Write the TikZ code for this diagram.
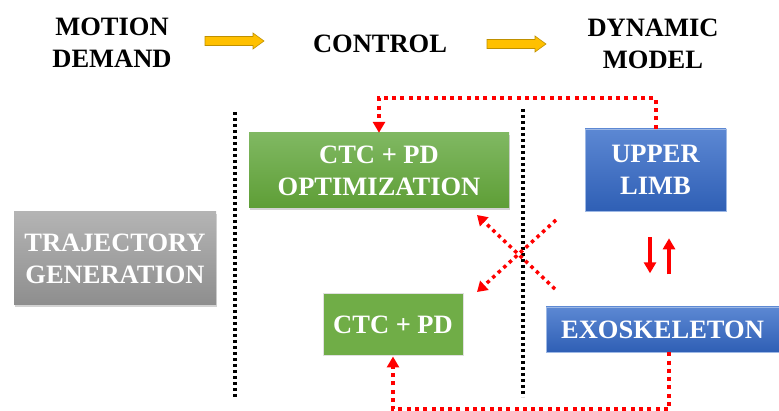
\documentclass[tikz,border=0pt]{standalone}
\usepackage{fontspec}
\setmainfont{Liberation Serif}
\usetikzlibrary{positioning,arrows.meta,calc,shadows}
\definecolor{dmgreen}{HTML}{70AD47}
\definecolor{dmgreentop}{HTML}{80B862}
\definecolor{dmgreenbot}{HTML}{5E9E36}
\definecolor{dmbluetop}{HTML}{5C88D3}
\definecolor{dmbluebot}{HTML}{2F5FB5}
\definecolor{dmgreytop}{HTML}{B4B4B4}
\definecolor{dmgreybot}{HTML}{8E8E8E}
\definecolor{dmorange}{HTML}{FFC000}
\definecolor{dmred}{HTML}{FF0000}
\newcommand{\bigfont}{\fontsize{26.5}{32}\selectfont\bfseries}
% block arrow of the headings, #1 = left end of its shaft
\newcommand{\blockarrow}[1]{%
  \draw[blockarr] #1 ++(0,-4.5) -- ++(48,0) -- ++(0,-3.5) -- ++(11,8)
    -- ++(-11,8) -- ++(0,-3.5) -- ++(-48,0) -- cycle;}
\tikzset{
  head/.style      ={align=center, font=\bigfont, inner sep=0pt},
  box/.style       ={align=center, font=\bigfont, text=white, inner sep=0pt},
  greenbox/.style  ={box, top color=dmgreentop, bottom color=dmgreenbot,
                     drop shadow={opacity=0.35, shadow xshift=1pt, shadow yshift=-2pt}},
  flatgreen/.style ={box, fill=dmgreen, draw=black!12, line width=1pt},
  bluebox/.style   ={box, top color=dmbluetop, bottom color=dmbluebot, draw=dmbluetop!60, line width=0.6pt},
  greybox/.style   ={box, top color=dmgreytop, bottom color=dmgreybot,
                     drop shadow={opacity=0.35, shadow xshift=1pt, shadow yshift=-2pt}},
  blockarr/.style  ={fill=dmorange, draw=dmorange!75!black, line width=0.6pt, line join=miter},
  sep/.style       ={line width=3.5pt, dash pattern=on 3pt off 3pt},
  fback/.style     ={dmred, line width=4pt, dash pattern=on 4pt off 4.3pt,
                     -{Triangle[length=11pt,width=12pt]}},
  cross/.style     ={dmred, line width=3.5pt, dash pattern=on 3.5pt off 4pt,
                     -{Triangle[length=10pt,width=12pt]}},
  updown/.style    ={dmred, line width=4pt, -{Triangle[length=11pt,width=12pt]}},
}

\begin{document}
\begin{tikzpicture}[x=1pt,y=-1pt]
  \useasboundingbox (0,0) rectangle (779,411);
  % headings
  \node[head] (motion)  at (112,43) {MOTION\\DEMAND};
  \node[head] (control) at (380,44) {CONTROL};
  \node[head] (dynmod)  at (653,44) {DYNAMIC\\MODEL};
  \blockarrow{(205,41)}
  \blockarrow{(487,44)}
  % separators
  \draw[sep] (235,112) -- (235,399);
  \draw[sep] (523,109) -- (523,397);
  % blocks
  \node[greybox, minimum width=202pt, minimum height=93pt] (traj) at (115,258.5) {TRAJECTORY\\GENERATION};
  \node[greenbox, minimum width=260pt, minimum height=75pt] (optim) at (379,170.5) {CTC + PD\\OPTIMIZATION};
  \node[flatgreen, minimum width=140pt, minimum height=62pt] (ctcpd) at (393,325) {CTC + PD};
  \node[bluebox, minimum width=141pt, minimum height=82pt] (upper) at (655.5,170) {UPPER\\LIMB};
  \node[bluebox, minimum width=233pt, minimum height=45pt] (exo) at (662.5,329.5) {EXOSKELETON};
  % feedback loops
  \draw[fback] (upper.north) -- ++(0,-31) -| (optim.north);
  \draw[fback] ([xshift=6.5pt]exo.south) -- ++(0,57) -| (ctcpd.south);
  \coordinate (xa) at (555,289);
  \coordinate (xb) at (477,215);
  \coordinate (xc) at (556,220);
  \coordinate (xd) at (477,292);
  \draw[cross] (xa) -- (xb);
  \draw[cross] (xc) -- (xd);
  \draw[updown] ([xshift=-5.5pt,yshift=-26pt]upper.south) -- ++(0,36);
  \draw[updown] ([xshift=13.5pt,yshift=-63pt]upper.south) -- ++(0,-36);
\end{tikzpicture}
\end{document}
